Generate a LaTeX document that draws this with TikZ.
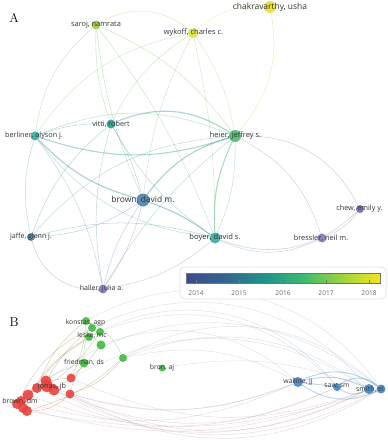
\documentclass[tikz,border=0pt]{standalone}
\usepackage{fontspec}
\newfontfamily\netfont{Open Sans}
\usetikzlibrary{backgrounds}

% node colours (year scale)
\definecolor{yrChak}{HTML}{E9E12C}
\definecolor{yrWyk}{HTML}{DCE13E}
\definecolor{yrSaroj}{HTML}{9DCB3E}
\definecolor{yrHeier}{HTML}{4DB86C}
\definecolor{yrTeal}{HTML}{38AA9C}
\definecolor{yrVitti}{HTML}{2F9C8F}
\definecolor{yrBrown}{HTML}{4C80A7}
\definecolor{yrJaffe}{HTML}{45809F}
\definecolor{yrPurple}{HTML}{6F68AE}
\definecolor{yrLav}{HTML}{8079B7}
% colour bar
\definecolor{cbA}{HTML}{3C4A8B}
\definecolor{cbB}{HTML}{33668D}
\definecolor{cbC}{HTML}{21918C}
\definecolor{cbD}{HTML}{3BB873}
\definecolor{cbE}{HTML}{9AD43E}
\definecolor{cbF}{HTML}{F4E41E}
% clusters
\definecolor{clRed}{HTML}{E8423E}
\definecolor{clGreen}{HTML}{3EBB3C}
\definecolor{clBlue}{HTML}{3F86C8}
\definecolor{clGrey}{HTML}{A9B0B8}

\begin{document}
\begin{tikzpicture}[x=0.03cm, y=-0.03cm,
	author/.style={circle, inner sep=0pt, minimum size=#1*0.6mm, fill opacity=0.9},
	lab/.style={font=\netfont\fontsize{#1}{#1}\selectfont, text=black!80, inner sep=0pt},
	lab/.default=6.2,
	lnk/.style={line width=0.45pt, draw opacity=0.35},
	heavy/.style={line width=0.95pt, draw opacity=0.45},
	farlnk/.style={line width=0.45pt, draw opacity=0.3},
	panel/.style={font=\fontsize{11}{11}\selectfont}]
	\useasboundingbox (0,0) rectangle (388,440);

	% ---------- panel A ----------
	\node[panel] (panelA) at (14,18) {A};

	\node[author=4.5, fill=yrSaroj] (saroj) at (96,25) {};
	\node[author=5, fill=yrWyk] (wykoff) at (193,33) {};
	\node[author=6, fill=yrChak] (chak) at (270,7) {};
	\node[author=4.5, fill=yrVitti] (vitti) at (111,124) {};
	\node[author=4.5, fill=yrTeal] (berliner) at (35,136) {};
	\node[author=6, fill=yrHeier] (heier) at (235,136) {};
	\node[author=6.5, fill=yrBrown] (brown) at (143,200) {};
	\node[author=4, fill=yrPurple] (chew) at (360,209) {};
	\node[author=4, fill=yrJaffe] (jaffe) at (31,237) {};
	\node[author=5.5, fill=yrTeal] (boyer) at (215,238) {};
	\node[author=4.5, fill=yrLav] (bressler) at (322,238) {};
	\node[author=4.5, fill=yrLav] (haller) at (103,289) {};

	\node[lab=6.3] (saroj-l) at (96,25) {saroj, namrata};
	\node[lab=6.4] (wykoff-l) at (193.5,33) {wykoff, charles c.};
	\node[lab=7.2] (chak-l) at (270,7) {chakravarthy, usha};
	\node[lab=6.2] (vitti-l) at (111,124) {vitti, robert};
	\node[lab=6.2] (berliner-l) at (34,136) {berliner, alyson j.};
	\node[lab=6.4] (heier-l) at (235.5,136) {heier, jeffrey s.};
	\node[lab=7.2] (brown-l) at (143,200) {brown, david m.};
	\node[lab=6.2] (chew-l) at (359.5,209) {chew, emily y.};
	\node[lab=6] (jaffe-l) at (31,237) {jaffe, glenn j.};
	\node[lab=6.5] (boyer-l) at (215,238) {boyer, david s.};
	\node[lab=6.3] (bressler-l) at (321,238) {bressler, neil m.};
	\node[lab=6] (haller-l) at (101.5,289) {haller, julia a.};

	\begin{scope}[on background layer]
		\path (saroj) edge[lnk, yrSaroj, bend left=35] (wykoff);
		\path (saroj) edge[lnk, yrSaroj!50!yrVitti, bend right=10] (vitti);
		\path (saroj) edge[lnk, yrSaroj!50!yrTeal, bend right=20] (berliner);
		\path (saroj) edge[lnk, yrSaroj!50!yrHeier, bend left=15] (heier);
		\path (saroj) edge[lnk, yrSaroj!50!yrTeal, bend left=8] (boyer);
		\path (saroj) edge[lnk, yrSaroj!50!yrBrown, bend right=8] (brown);
		\path (wykoff) edge[lnk, yrWyk!50!yrVitti, bend right=15] (vitti);
		\path (wykoff) edge[lnk, yrWyk!60!yrHeier, bend left=12] (heier);
		\path (wykoff) edge[lnk, yrWyk!50!yrBrown, bend right=10] (brown);
		\path (wykoff) edge[lnk, yrWyk!50!yrTeal, bend left=6] (boyer);
		\path (wykoff) edge[lnk, yrWyk!50!yrTeal, bend right=22] (berliner);
		\path (wykoff) edge[lnk, yrWyk, bend left=22] (chak);
		\path (chak) edge[lnk, yrChak!70!yrHeier, bend left=25] (heier);
		\path (vitti) edge[lnk, yrVitti, bend right=10] (berliner);
		\path (vitti) edge[heavy, yrVitti!50!yrHeier, bend left=28] (heier);
		\path (vitti) edge[lnk, yrVitti!50!yrBrown, bend left=8] (brown);
		\path (vitti) edge[lnk, yrVitti!60!yrTeal, bend right=12] (boyer);
		\path (vitti) edge[lnk, yrVitti!50!yrJaffe, bend right=15] (jaffe);
		\path (vitti) edge[lnk, yrVitti!50!yrLav, bend right=12] (haller);
		\path (berliner) edge[lnk, yrTeal!60!yrHeier, bend left=22] (heier);
		\path (berliner) edge[heavy, yrTeal!60!yrHeier, bend right=18] (heier);
		\path (berliner) edge[heavy, yrTeal!50!yrBrown, bend right=15] (brown);
		\path (berliner) edge[lnk, yrTeal, bend right=22] (boyer);
		\path (berliner) edge[lnk, yrTeal!50!yrJaffe, bend right=14] (jaffe);
		\path (berliner) edge[lnk, yrTeal!50!yrLav, bend left=12] (haller);
		\path (heier) edge[heavy, yrHeier!50!yrBrown, bend right=18] (brown);
		\path (heier) edge[heavy, yrHeier!60!yrTeal, bend right=14] (boyer);
		\path (heier) edge[lnk, yrHeier!60!yrTeal, bend left=12] (boyer);
		\path (heier) edge[lnk, yrHeier!40!yrPurple, bend left=32] (chew);
		\path (heier) edge[lnk, yrHeier!40!yrLav, bend left=22] (bressler);
		\path (heier) edge[lnk, yrHeier!50!yrJaffe, bend right=22] (jaffe);
		\path (heier) edge[lnk, yrHeier!40!yrLav, bend right=10] (haller);
		\path (brown) edge[heavy, yrBrown!60!yrTeal, bend left=8] (boyer);
		\path (brown) edge[lnk, yrBrown!60!yrJaffe, bend left=15] (jaffe);
		\path (brown) edge[lnk, yrBrown!50!yrLav, bend right=10] (haller);
		\path (brown) edge[lnk, yrBrown!50!yrLav, bend left=10] (haller);
		\path (boyer) edge[lnk, yrTeal!50!yrLav, bend left=15] (haller);
		\path (boyer) edge[lnk, yrTeal!40!yrLav, bend right=25] (bressler);
		\path (boyer) edge[lnk, yrTeal!40!yrPurple, bend right=32] (chew);
		\path (jaffe) edge[lnk, yrJaffe!50!yrLav, bend right=40] (haller);
		\path (jaffe) edge[lnk, yrJaffe!50!yrTeal, bend left=15] (boyer);
		\path (bressler) edge[lnk, yrLav!70!yrPurple, bend right=15] (chew);
	\end{scope}

	% colour bar
	\draw[black!12, line width=0.6pt, rounded corners=4pt, fill=white] (180,267) rectangle (386,299);
	\shade[left color=cbA, right color=cbB] (186,273) rectangle (225,283);
	\shade[left color=cbB, right color=cbC] (225,273) rectangle (264,283);
	\shade[left color=cbC, right color=cbD] (264,273) rectangle (302,283);
	\shade[left color=cbD, right color=cbE] (302,273) rectangle (341,283);
	\shade[left color=cbE, right color=cbF] (341,273) rectangle (380,283);
	\draw[black!55, line width=0.4pt] (186,273) rectangle (380,283);
	\node[lab=5.6, text=black!60] (y2014) at (196,293) {2014};
	\node[lab=5.6, text=black!60] (y2015) at (239,293) {2015};
	\node[lab=5.6, text=black!60] (y2016) at (283,293) {2016};
	\node[lab=5.6, text=black!60] (y2017) at (326,293) {2017};
	\node[lab=5.6, text=black!60] (y2018) at (369,293) {2018};
	\foreach \x in {196,239,283,326,369}
		\draw[black!55, line width=0.4pt] (\x,280) -- (\x,283);

	% ---------- panel B ----------
	\node[panel] (panelB) at (14,322) {B};

	\node[author=4, fill=clGreen] (g1) at (86,321) {};
	\node[author=4, fill=clGreen] (g2) at (92,328) {};
	\node[author=4, fill=clGreen] (g3) at (100,332) {};
	\node[author=4, fill=clGreen] (g4) at (89,337) {};
	\node[author=4.5, fill=clGreen] (g5) at (101,345) {};
	\node[author=4, fill=clGreen] (g6) at (123,358) {};
	\node[author=4.5, fill=clGreen] (g7) at (84,363) {};
	\node[author=3.5, fill=clGreen] (bron) at (162,368) {};

	\node[author=4.5, fill=clRed] (r1) at (71,378) {};
	\node[author=5.5, fill=clRed] (r2) at (46,381) {};
	\node[author=5, fill=clRed] (r3) at (37,388) {};
	\node[author=6, fill=clRed] (jonas) at (47,386) {};
	\node[author=5.5, fill=clRed] (r5) at (54,390) {};
	\node[author=5.5, fill=clRed] (r6) at (28,395) {};
	\node[author=4.5, fill=clRed] (r7) at (70,394) {};
	\node[author=5, fill=clRed] (brown-b) at (21,401) {};
	\node[author=5, fill=clRed] (r9) at (17,404) {};
	\node[author=5, fill=clRed] (r10) at (23,408) {};
	\node[author=5, fill=clRed] (r11) at (27,411) {};

	\node[author=5, fill=clBlue] (walline) at (298,382) {};
	\node[author=4, fill=clBlue] (saw) at (337,387) {};
	\node[author=5, fill=clBlue] (smith) at (369,389) {};
	\node[author=4.5, fill=clBlue] (b4) at (381,389) {};

	\node[lab=5.8] (g1-l) at (85.5,322.5) {konstas, agp};
	\node[lab=5.8] (g4-l) at (92,335) {leske, mc};
	\node[lab=5.8] (g7-l) at (84,362.5) {friedman, ds};
	\node[lab=5.8] (bron-l) at (162,367.5) {bron, aj};
	\node[lab=6.2] (jonas-l) at (52,387) {jonas, jb};
	\node[lab=6] (brown-b-l) at (20,401) {brown, dm};
	\node[lab=5.8] (walline-l) at (298,382) {walline, jj};
	\node[lab=5.8] (saw-l) at (337,386) {saw, sm};
	\node[lab=6] (smith-l) at (370,389) {smith, el};

	\begin{scope}[on background layer]
		% red to blue, below
		\path (r1) edge[farlnk, clRed!25!clGrey, bend right=22] (smith);
		\path (r7) edge[farlnk, clRed!25!clGrey, bend right=18] (walline);
		\path (r7) edge[farlnk, clRed!25!clGrey, bend right=26] (smith);
		\path (r7) edge[farlnk, clRed!25!clGrey, bend right=30] (b4);
		\path (r5) edge[farlnk, clRed!25!clGrey, bend right=24] (saw);
		\path (jonas) edge[farlnk, clRed!25!clGrey, bend right=20] (walline);
		\path (jonas) edge[farlnk, clRed!25!clGrey, bend right=28] (b4);
		\path (r3) edge[farlnk, clRed!25!clGrey, bend right=26] (smith);
		\path (r6) edge[farlnk, clRed!25!clGrey, bend right=22] (saw);
		\path (brown-b) edge[farlnk, clRed!25!clGrey, bend right=20] (walline);
		\path (r10) edge[farlnk, clRed!25!clGrey, bend right=18] (smith);
		\path (r11) edge[farlnk, clRed!25!clGrey, bend right=14] (b4);
		% green and red to blue, above
		\path (g1) edge[farlnk, clBlue!20!clGrey, bend left=42] (b4);
		\path (g2) edge[farlnk, clBlue!20!clGrey, bend left=38] (smith);
		\path (g3) edge[farlnk, clBlue!20!clGrey, bend left=34] (saw);
		\path (g5) edge[farlnk, clBlue!20!clGrey, bend left=30] (walline);
		\path (g6) edge[farlnk, clBlue!20!clGrey, bend left=36] (b4);
		\path (g6) edge[farlnk, clBlue!20!clGrey, bend left=28] (smith);
		\path (g6) edge[farlnk, clBlue!20!clGrey, bend left=20] (walline);
		\path (g4) edge[farlnk, clBlue!20!clGrey, bend left=40] (saw);
		\path (r1) edge[farlnk, clBlue!20!clGrey, bend left=30] (smith);
		\path (r2) edge[farlnk, clBlue!20!clGrey, bend left=38] (b4);
		\path (bron) edge[farlnk, clBlue!20!clGrey, bend left=15] (smith);
		% red to green
		\path (r1) edge[lnk, clRed!50!clGreen, bend right=10] (g1);
		\path (r2) edge[lnk, clRed!50!clGreen, bend left=10] (g2);
		\path (r3) edge[lnk, clRed!50!clGreen, bend left=15] (g1);
		\path (jonas) edge[lnk, clRed!50!clGreen, bend right=10] (g3);
		\path (r5) edge[lnk, clRed!50!clGreen, bend right=8] (g5);
		\path (r6) edge[lnk, clRed!50!clGreen, bend left=12] (g4);
		\path (r7) edge[lnk, clRed!50!clGreen, bend right=15] (g6);
		\path (r7) edge[lnk, clRed!50!clGreen, bend left=10] (g7);
		\path (brown-b) edge[lnk, clRed!50!clGreen, bend left=14] (g7);
		\path (r9) edge[lnk, clRed!50!clGreen, bend left=18] (g2);
		\path (r11) edge[lnk, clRed!50!clGreen, bend right=12] (g6);
		\path (r10) edge[lnk, clRed!50!clGreen, bend left=16] (g3);
		% within clusters
		\path (r1) edge[lnk, clRed, bend right=20] (brown-b);
		\path (r7) edge[lnk, clRed, bend left=20] (r11);
		\path (r2) edge[lnk, clRed, bend right=15] (r10);
		\path (g1) edge[lnk, clGreen, bend left=20] (g6);
		\path (g2) edge[lnk, clGreen, bend right=15] (g7);
		\path (g4) edge[lnk, clGreen, bend left=15] (g5);
		\path (walline) edge[lnk, clBlue, line width=0.8pt, bend left=30] (b4);
		\path (walline) edge[lnk, clBlue, line width=0.8pt, bend right=30] (b4);
		\path (walline) edge[lnk, clBlue, line width=0.8pt, bend left=20] (smith);
		\path (saw) edge[lnk, clBlue, line width=0.8pt, bend left=40] (b4);
		\path (saw) edge[lnk, clBlue, line width=0.8pt, bend right=30] (smith);
		\path (walline) edge[lnk, clBlue, line width=0.8pt] (saw);
	\end{scope}
\end{tikzpicture}
\end{document}
